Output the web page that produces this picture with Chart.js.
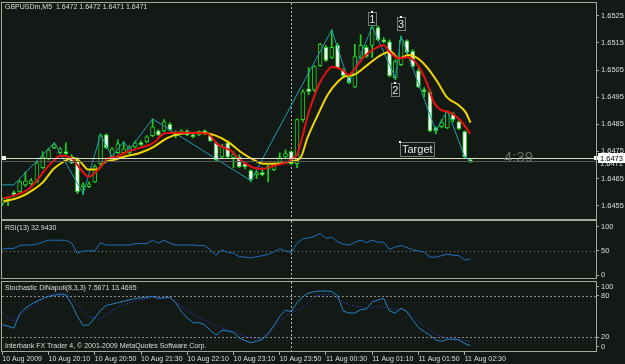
<!DOCTYPE html>
<html>
<head>
<meta charset="utf-8">
<title>GBPUSDm,M5</title>
<script src="https://cdn.jsdelivr.net/npm/chart.js@4/dist/chart.umd.min.js"></script>
<style>
  html, body { margin: 0; padding: 0; background: #131a16; }
  #wrap { position: relative; width: 625px; height: 364px; overflow: hidden; background: #131a16; }
  canvas { position: absolute; left: 0; }
  #mainChart { top: 0; }
  #rsiChart { top: 220px; }
  #stochChart { top: 280px; }
</style>
</head>
<body>
<div id="wrap">
  <canvas id="mainChart" width="625" height="220" style="width:625px;height:220px"></canvas>
  <canvas id="rsiChart" width="625" height="60" style="width:625px;height:60px"></canvas>
  <canvas id="stochChart" width="625" height="84" style="width:625px;height:84px"></canvas>
</div>
<script>
// ---- data (bar index 0 = 10 Aug 19:30, M5 bars) ----
const opens = [1.64558, 1.64572, 1.64598, 1.64602, 1.64627, 1.64631, 1.64638, 1.64690, 1.64723, 1.64764,
  1.64745, 1.64749, 1.64730, 1.64719, 1.64620, 1.64620, 1.64638, 1.64705, 1.64811, 1.64730,
  1.64745, 1.64745, 1.64745, 1.64767, 1.64782, 1.64786, 1.64808, 1.64826, 1.64826, 1.64850,
  1.64819, 1.64819, 1.64826, 1.64811, 1.64811, 1.64826, 1.64811, 1.64782, 1.64730, 1.64782,
  1.64727, 1.64730, 1.64705, 1.64679, 1.64664, 1.64672, 1.64686, 1.64683, 1.64708, 1.64730,
  1.64749, 1.64705, 1.64867, 1.64981, 1.64977, 1.65066, 1.65134, 1.65096, 1.65141, 1.65050,
  1.65022, 1.64988, 1.65096, 1.65134, 1.65141, 1.65206, 1.65161, 1.65154, 1.65022, 1.65070,
  1.65158, 1.65119, 1.65047, 1.64977, 1.64970, 1.64837, 1.64841, 1.64837, 1.64889, 1.64859,
  1.64823, 1.64720];
const highs = [1.64579, 1.64583, 1.64605, 1.64645, 1.64675, 1.64650, 1.64715, 1.64749, 1.64762, 1.64782,
  1.64764, 1.64782, 1.64738, 1.64727, 1.64635, 1.64638, 1.64701, 1.64815, 1.64815, 1.64764,
  1.64793, 1.64786, 1.64771, 1.64789, 1.64789, 1.64808, 1.64870, 1.64830, 1.64867, 1.64856,
  1.64826, 1.64830, 1.64830, 1.64815, 1.64826, 1.64830, 1.64815, 1.64786, 1.64775, 1.64786,
  1.64749, 1.64738, 1.64708, 1.64683, 1.64679, 1.64690, 1.64701, 1.64708, 1.64745, 1.64756,
  1.64752, 1.64870, 1.64977, 1.65059, 1.65066, 1.65148, 1.65140, 1.65198, 1.65148, 1.65055,
  1.65025, 1.65145, 1.65180, 1.65141, 1.65210, 1.65213, 1.65170, 1.65161, 1.65088, 1.65175,
  1.65161, 1.65125, 1.65055, 1.64985, 1.64977, 1.64841, 1.64867, 1.64900, 1.64893, 1.64863,
  1.64826, 1.64720];
const lows = [1.64550, 1.64550, 1.64585, 1.64598, 1.64620, 1.64625, 1.64635, 1.64686, 1.64719, 1.64760,
  1.64742, 1.64738, 1.64705, 1.64595, 1.64591, 1.64616, 1.64635, 1.64701, 1.64760, 1.64727,
  1.64742, 1.64742, 1.64738, 1.64764, 1.64771, 1.64782, 1.64804, 1.64808, 1.64822, 1.64826,
  1.64800, 1.64815, 1.64808, 1.64800, 1.64808, 1.64811, 1.64786, 1.64712, 1.64727, 1.64727,
  1.64690, 1.64690, 1.64686, 1.64638, 1.64650, 1.64660, 1.64638, 1.64679, 1.64705, 1.64727,
  1.64701, 1.64690, 1.64859, 1.64959, 1.64970, 1.65063, 1.65081, 1.65092, 1.65055, 1.65025,
  1.65000, 1.64985, 1.65092, 1.65096, 1.65096, 1.65158, 1.65150, 1.65025, 1.65015, 1.65066,
  1.65110, 1.65059, 1.64985, 1.64950, 1.64822, 1.64815, 1.64837, 1.64834, 1.64859, 1.64830,
  1.64727, 1.64710];
const closes = [1.64572, 1.64580, 1.64591, 1.64638, 1.64642, 1.64642, 1.64708, 1.64730, 1.64756, 1.64775,
  1.64760, 1.64742, 1.64708, 1.64602, 1.64627, 1.64631, 1.64694, 1.64808, 1.64764, 1.64760,
  1.64778, 1.64760, 1.64767, 1.64782, 1.64775, 1.64804, 1.64841, 1.64811, 1.64859, 1.64830,
  1.64808, 1.64826, 1.64811, 1.64804, 1.64823, 1.64815, 1.64789, 1.64719, 1.64771, 1.64730,
  1.64738, 1.64694, 1.64694, 1.64646, 1.64672, 1.64664, 1.64694, 1.64705, 1.64727, 1.64742,
  1.64705, 1.64867, 1.64970, 1.64970, 1.65063, 1.65145, 1.65085, 1.65134, 1.65059, 1.65029,
  1.65003, 1.65100, 1.65141, 1.65100, 1.65206, 1.65161, 1.65154, 1.65029, 1.65081, 1.65161,
  1.65115, 1.65063, 1.64988, 1.64970, 1.64826, 1.64826, 1.64856, 1.64895, 1.64867, 1.64834,
  1.64730, 1.64710];

// fast MA (red) and slow MA (yellow), sampled along the bars
const redBars = [0.2, 2, 4.4, 6.1, 7.1, 8.7, 10.1, 11.5, 12.3, 13.9, 14.9, 16.1, 17, 18.2, 19.6, 21.7, 23.9, 26.2,
  27.9, 29.6, 32.1, 35.5, 37.3, 39.5, 41.2, 43.5, 45.2, 46.9, 49.4, 50.4, 51, 52, 53, 54, 55, 56, 57,
  58.9, 59.9, 61.1, 62.5, 64.9, 66, 67.2, 68.6, 70.1, 71.2, 72.4, 73.6, 74.6, 75.8, 77, 78.1, 79.3, 81];
const redVals = [1.64576, 1.64587, 1.64609, 1.64646, 1.64675, 1.64712, 1.64734, 1.64730, 1.64719, 1.64675,
  1.64657, 1.64672, 1.64694, 1.64723, 1.64730, 1.64749, 1.64764, 1.64782, 1.64815, 1.64819, 1.64819,
  1.64815, 1.64775, 1.64753, 1.64719, 1.64690, 1.64686, 1.64697, 1.64712, 1.64727, 1.64738, 1.64811,
  1.64893, 1.64955, 1.65006, 1.65040, 1.65061, 1.65050, 1.65032, 1.65057, 1.65097, 1.65134, 1.65141,
  1.65112, 1.65093, 1.65097, 1.65086, 1.65050, 1.64995, 1.64933, 1.64904, 1.64897, 1.64885, 1.64863,
  1.64815];
const yellowBars = [0.2, 3.2, 5.4, 7.1, 8.9, 10.6, 12.2, 13.5, 14.9, 16.5, 17.5, 19.3, 21.7, 23.9, 26.2, 28.6,
  30.9, 34.3, 36.6, 39, 41.2, 43.5, 45.2, 47.6, 49.9, 51.6, 52.8, 54.6, 56.3, 58, 59.1, 60.8, 63.2, 65.5,
  67.2, 68.6, 70.3, 71.9, 73.6, 75.3, 77, 78.8, 80.2, 81];
const yellowVals = [1.64565, 1.64583, 1.64609, 1.64638, 1.64686, 1.64712, 1.64727, 1.64712, 1.64683, 1.64683,
  1.64708, 1.64719, 1.64734, 1.64745, 1.64767, 1.64800, 1.64815, 1.64819, 1.64811, 1.64786, 1.64749,
  1.64719, 1.64705, 1.64705, 1.64712, 1.64727, 1.64800, 1.64885, 1.64959, 1.65006, 1.65025, 1.65032,
  1.65069, 1.65105, 1.65117, 1.65093, 1.65105, 1.65093, 1.65057, 1.65006, 1.64948, 1.64923, 1.64893,
  1.64856];

// zigzag turning points
const zigzagBars = [0, 2, 9, 14, 17, 19, 21, 22, 26, 43, 57, 60, 64, 68, 69, 75, 77, 80, 81];
const zigzagVals = [1.64627, 1.64627, 1.64782, 1.64595, 1.64811, 1.64730, 1.64786, 1.64756, 1.64870, 1.64642,
  1.65198, 1.65003, 1.65210, 1.65022, 1.65175, 1.64826, 1.64900, 1.64730, 1.64716];

const rsiVals = [53, 55, 55, 61, 62, 62, 64, 68, 72, 72,
  72, 72, 66, 45, 50, 50, 50, 67, 62, 62,
  62, 62, 62, 65, 65, 65, 72, 66, 72, 66,
  62, 62, 62, 62, 61, 61, 52, 41, 52, 47,
  45, 38, 37, 35, 38, 40, 43, 48, 54, 50,
  47, 66, 75, 77, 80, 86, 76, 78, 69, 64,
  62, 68, 72, 67, 72, 68, 68, 53, 58, 61,
  57, 52, 50, 47, 37, 37, 40, 43, 41, 40,
  31, 32.94];
const stochMain = [38, 36, 33, 54, 62, 68, 72, 76, 79, 81,
  82, 81, 68, 50, 37, 38, 48, 59, 66, 68,
  70, 72, 74, 76, 77, 78, 79, 76, 77, 78,
  70, 57, 48, 41, 41, 38, 30, 23, 30, 29,
  27, 19, 15, 12, 14, 17, 25, 37, 50, 59,
  57, 70, 79, 84, 86, 87, 87, 86, 80, 58,
  55, 55, 60, 61, 71, 74, 76, 58, 55, 62,
  57, 45, 34, 28, 23, 16, 14, 17, 17, 16,
  11, 7.57];
const stochSignal = [55, 48, 43, 50, 58, 64, 71, 76, 80, 83,
  84, 83, 76, 67, 58, 50, 48, 47, 52, 59,
  63, 67, 70, 72, 74, 76, 78, 78, 78, 77,
  71, 65, 59, 54, 49, 45, 41, 37, 33, 31,
  28, 25, 21, 19, 18, 18, 26, 34, 42, 50,
  55, 59, 62, 71, 79, 81, 82, 82, 77, 71,
  67, 65, 64, 63, 63, 64, 63, 62, 61, 60,
  59, 51, 43, 36, 30, 25, 21, 19, 18, 17,
  15, 13.47];

const priceTicks = [1.6455, 1.6465, 1.6475, 1.6485, 1.6495, 1.6505, 1.6515, 1.6525];
const rsiTicks = [0, 50, 100];
const stochTickVals = [6.5, 20, 80, 93.5];
const stochTickLabels = ['0', '20', '80', '100'];
const timeTickBars = [0, 8, 16, 24, 32, 40, 48, 56, 64, 72, 80];
const timeTickLabels = ['10 Aug 2009', '10 Aug 20:10', '10 Aug 20:50', '10 Aug 21:30', '10 Aug 22:10',
  '10 Aug 23:10', '10 Aug 23:50', '11 Aug 00:30', '11 Aug 01:10', '11 Aug 01:50', '11 Aug 02:30'];

const markTexts = ['1', '2', '3'];
const markBars = [64, 68, 69];
const markPrices = [1.65264, 1.65003, 1.65245];
const targetBar = 68.8, targetPrice = 1.64786;
const timerText = '4:39', timerBar = 89.3;
const linePrice = 1.64727, bidPrice = 1.64713;
const DAY_SEP_BAR = 50;

// ---- look ----
const BG = '#131a16';
const FRAME = '#a8a89a';
const TEXT = '#dcdcdc';
const CANDLE = '#1fd21f';
const X_MIN = -0.05, X_MAX = 102.72;
const FONT = "'Liberation Sans', Arial, sans-serif";

Chart.defaults.font.family = FONT;
Chart.defaults.font.size = 7;
Chart.defaults.color = TEXT;
Chart.defaults.animation = false;
Chart.defaults.plugins.legend.display = false;
Chart.defaults.plugins.tooltip.enabled = false;

// pane frame, level lines, day separator and pane captions
const panePlugin = {
    id: 'pane',
    beforeDatasetsDraw(chart, args, opts) {
        const {ctx, chartArea: a, scales} = chart;
        ctx.save();
        ctx.lineWidth = 1;
        ctx.strokeStyle = '#8c8c84';
        ctx.setLineDash(opts.dash || [2, 2]);
        (opts.levels || []).forEach(v => {
            const py = Math.round(scales.y.getPixelForValue(v)) + 0.5;
            ctx.beginPath(); ctx.moveTo(a.left, py); ctx.lineTo(a.right, py); ctx.stroke();
        });
        ctx.setLineDash([2, 2]);
        ctx.strokeStyle = '#b4b4b4';
        const px = Math.round(scales.x.getPixelForValue(DAY_SEP_BAR)) + 0.5;
        ctx.beginPath(); ctx.moveTo(px, a.top); ctx.lineTo(px, a.bottom); ctx.stroke();
        ctx.restore();
    },
    afterDraw(chart, args, opts) {
        const {ctx, chartArea: a} = chart;
        ctx.save();
        ctx.strokeStyle = FRAME;
        ctx.lineWidth = 1;
        ctx.strokeRect(a.left - 0.5, a.top - 0.5, a.width + 1, a.height + 1);
        ctx.font = '7px ' + FONT;
        ctx.fillStyle = TEXT;
        ctx.textBaseline = 'middle';
        (opts.texts || []).forEach(t => ctx.fillText(t.text, t.x, t.y));
        ctx.restore();
    }
};

// chart objects on the price pane
const objectsPlugin = {
    id: 'objects',
    afterDatasetsDraw(chart) {
        const {ctx, chartArea: a, scales: {x, y}} = chart;
        ctx.save();
        // bid line and horizontal line
        let py = Math.round(y.getPixelForValue(bidPrice)) + 0.5;
        ctx.strokeStyle = '#5a5a58'; ctx.lineWidth = 1;
        ctx.beginPath(); ctx.moveTo(a.left, py); ctx.lineTo(a.right, py); ctx.stroke();
        py = Math.round(y.getPixelForValue(linePrice)) + 0.5;
        ctx.strokeStyle = '#dcdcc4';
        ctx.beginPath(); ctx.moveTo(a.left, py); ctx.lineTo(a.right, py); ctx.stroke();
        ctx.fillStyle = '#ffffff';
        ctx.fillRect(a.left, py - 2.5, 4, 4);
        ctx.fillRect(a.right - 2, py - 2.5, 4, 4);

        // numbered marks
        ctx.font = '11px ' + FONT;
        ctx.textBaseline = 'top';
        markTexts.forEach((t, i) => {
            const cx = x.getPixelForValue(markBars[i]);
            const ty = Math.round(y.getPixelForValue(markPrices[i]));
            const w = Math.round(ctx.measureText(t).width);
            ctx.strokeStyle = '#7a7a7a';
            ctx.strokeRect(Math.round(cx - w / 2 - 1) + 0.5, ty + 0.5, w + 2, 13);
            ctx.fillStyle = '#e6e6e6';
            ctx.textAlign = 'center';
            ctx.fillText(t, cx, ty + 2);
            ctx.fillStyle = '#ffffff';
            ctx.fillRect(Math.round(cx) - 1, ty - 1, 2, 2);
        });

        // Target label
        const tx = Math.round(x.getPixelForValue(targetBar));
        const ty = Math.round(y.getPixelForValue(targetPrice));
        ctx.textAlign = 'left';
        const tw = Math.round(ctx.measureText('Target').width);
        ctx.strokeStyle = '#7a7a7a';
        ctx.strokeRect(tx + 0.5, ty + 0.5, tw + 3, 14);
        ctx.fillStyle = '#e6e6e6';
        ctx.fillText('Target', tx + 2, ty + 2);
        ctx.fillStyle = '#ffffff';
        ctx.fillRect(tx - 1, ty - 1, 2, 2);

        // bar timer
        ctx.font = '15px ' + FONT;
        ctx.fillStyle = '#6c6c6c';
        ctx.textAlign = 'center';
        ctx.textBaseline = 'middle';
        ctx.fillText(timerText, x.getPixelForValue(timerBar), y.getPixelForValue(linePrice));
        ctx.restore();
    },
    afterDraw(chart) {
        const {ctx, chartArea: a, scales: {y}} = chart;
        ctx.save();
        ctx.font = '7px ' + FONT;
        ctx.textBaseline = 'middle';
        ctx.fillStyle = TEXT;
        ctx.fillText('GBPUSDm,M5  1.6472 1.6472 1.6471 1.6471', 5, 7);
        // price labels on the axis
        const bidY = y.getPixelForValue(bidPrice);
        ctx.font = '7.5px ' + FONT;
        ctx.fillText(bidPrice.toFixed(4), a.right + 4, bidY + 2);
        const ly = Math.round(y.getPixelForValue(linePrice));
        ctx.fillStyle = '#ffffff';
        ctx.fillRect(a.right + 2, ly - 5, 27, 10);
        ctx.fillStyle = '#000000';
        ctx.fillText(linePrice.toFixed(4), a.right + 4, ly + 0.5);
        ctx.restore();
    }
};

function rightAxis(min, max, tickVals, fmt) {
    return {
        type: 'linear',
        position: 'right',
        min: min,
        max: max,
        afterBuildTicks: ax => { ax.ticks = tickVals.map(v => ({value: v})); },
        afterFit: ax => { ax.width = 29; ax.paddingTop = 0; ax.paddingBottom = 0; },
        grid: { drawOnChartArea: false, drawTicks: true, tickLength: 3, color: FRAME },
        border: { display: true, color: FRAME },
        ticks: { color: TEXT, padding: 2, font: { size: 7.5 }, callback: fmt }
    };
}

function hiddenX() {
    return { type: 'linear', display: false, min: X_MIN, max: X_MAX, offset: false };
}

function points(xs, ys) {
    return xs.map((v, i) => ({ x: v, y: ys[i] }));
}

const barIndex = closes.map((c, i) => i);

// ---- price pane ----
new Chart(document.getElementById('mainChart'), {
    type: 'bar',
    data: {
        datasets: [
            {
                type: 'line',
                data: points(redBars, redVals),
                borderColor: '#e81010',
                borderWidth: 2,
                pointRadius: 0,
                cubicInterpolationMode: 'monotone',
                order: 0
            },
            {
                type: 'line',
                data: points(yellowBars, yellowVals),
                borderColor: '#f2d600',
                borderWidth: 2,
                pointRadius: 0,
                cubicInterpolationMode: 'monotone',
                order: 1
            },
            {
                type: 'line',
                data: points(zigzagBars, zigzagVals),
                borderColor: '#1c9fb2',
                borderWidth: 1,
                pointRadius: 0,
                tension: 0,
                order: 2
            },
            {
                // candle bodies
                data: barIndex.map(i => ({ x: i, y: [opens[i], closes[i]] })),
                backgroundColor: barIndex.map(i => closes[i] < opens[i] ? '#ffffff' : BG),
                borderColor: CANDLE,
                borderWidth: 1,
                borderSkipped: false,
                barThickness: 4,
                minBarLength: 2,
                grouped: false,
                order: 3
            },
            {
                // wicks
                data: barIndex.map(i => ({ x: i, y: [lows[i], highs[i]] })),
                backgroundColor: CANDLE,
                borderWidth: 0,
                barThickness: 1,
                grouped: false,
                order: 4
            }
        ]
    },
    options: {
        responsive: false,
        layout: { padding: { left: 2, top: 3, right: 0, bottom: 1 } },
        scales: {
            x: hiddenX(),
            y: rightAxis(1.64501, 1.65297, priceTicks, v => v.toFixed(4))
        },
        plugins: {
            pane: { levels: [] }
        }
    },
    plugins: [panePlugin, objectsPlugin]
});

// ---- RSI pane ----
new Chart(document.getElementById('rsiChart'), {
    type: 'line',
    data: {
        datasets: [{
            data: points(barIndex, rsiVals),
            borderColor: '#1f6fc0',
            borderWidth: 1,
            pointRadius: 0,
            tension: 0
        }]
    },
    options: {
        responsive: false,
        layout: { padding: { left: 2, top: 1, right: 0, bottom: 2 } },
        scales: {
            x: hiddenX(),
            y: rightAxis(-6.2, 111.8, rsiTicks, v => String(v))
        },
        plugins: {
            pane: {
                levels: [50],
                dash: [1, 3],
                texts: [{ text: 'RSI(13) 32.9430', x: 5, y: 8 }]
            }
        }
    },
    plugins: [panePlugin]
});

// ---- Stochastic pane with time axis ----
new Chart(document.getElementById('stochChart'), {
    type: 'line',
    data: {
        datasets: [
            {
                data: points(barIndex, stochMain),
                borderColor: '#2585c8',
                borderWidth: 1,
                pointRadius: 0,
                tension: 0
            },
            {
                data: points(barIndex, stochSignal),
                borderColor: '#4040f0',
                borderWidth: 1,
                borderDash: [1, 2],
                pointRadius: 0,
                tension: 0
            }
        ]
    },
    options: {
        responsive: false,
        layout: { padding: { left: 2, top: 2, right: 0, bottom: 0 } },
        scales: {
            x: {
                type: 'linear',
                min: X_MIN,
                max: X_MAX,
                offset: false,
                afterBuildTicks: ax => { ax.ticks = timeTickBars.map(v => ({value: v})); },
                afterFit: ax => { ax.height = 13; ax.paddingLeft = 0; ax.paddingRight = 0; },
                grid: { drawOnChartArea: false, drawTicks: true, tickLength: 4, color: FRAME },
                border: { display: false },
                ticks: {
                    color: TEXT,
                    padding: 0,
                    align: 'start',
                    maxRotation: 0,
                    autoSkip: false,
                    callback: (v, i) => timeTickLabels[i]
                }
            },
            y: rightAxis(0, 100, stochTickVals, (v, i) => stochTickLabels[i])
        },
        plugins: {
            pane: {
                levels: [20, 80],
                dash: [2, 2],
                texts: [
                    { text: 'Stochastic DiNapoli(8,3,3) 7.5671 13.4695', x: 5, y: 8 },
                    { text: 'Interbank FX Trader 4, \u00a9 2001-2009 MetaQuotes Software Corp.', x: 5, y: 66 }
                ]
            }
        }
    },
    plugins: [panePlugin]
});
</script>
</body>
</html>
